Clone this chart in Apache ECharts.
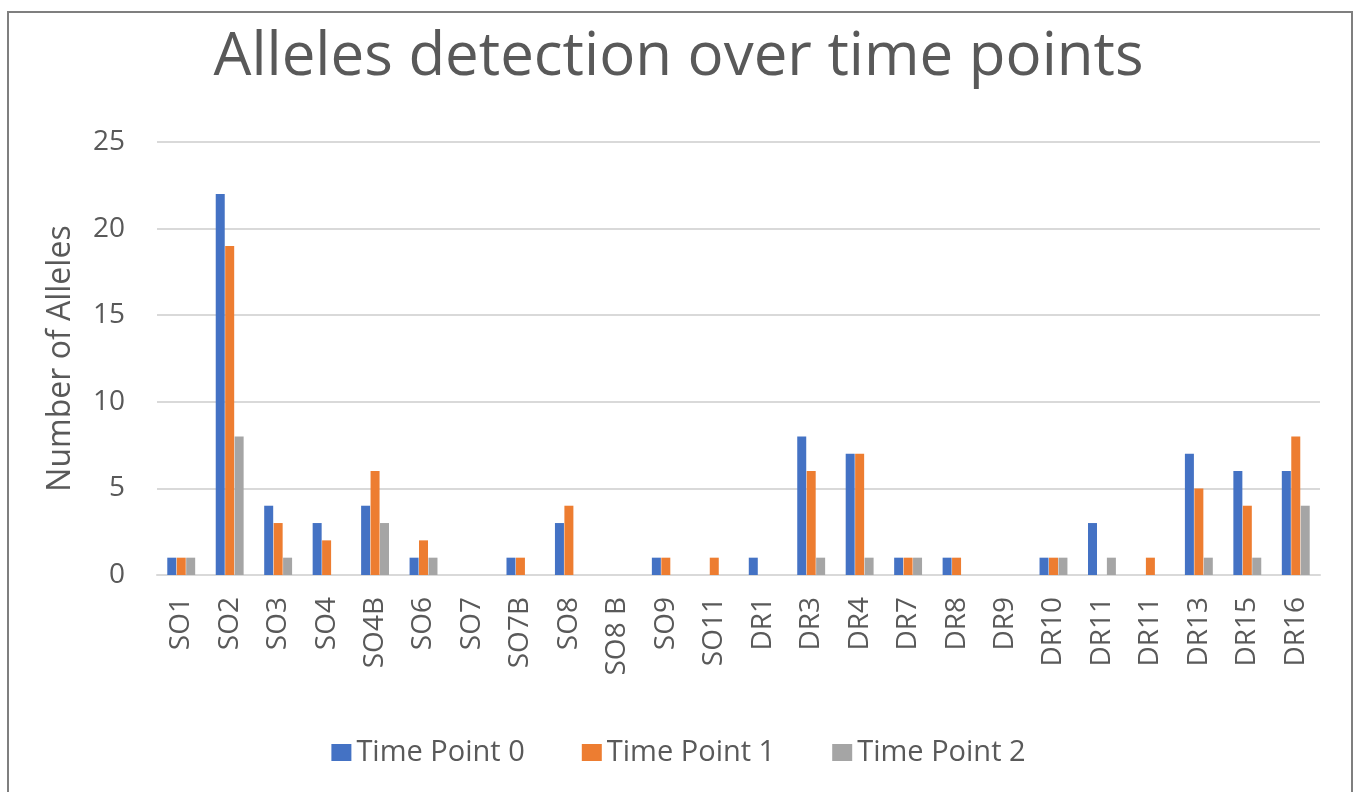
<!DOCTYPE html>
<html>
<head>
<meta charset="utf-8">
<script src="https://cdn.jsdelivr.net/npm/echarts@6/dist/echarts.min.js"></script>
<style>
  html, body { margin: 0; padding: 0; background: #fff; overflow: hidden; }
  #frame {
    position: absolute; left: 7px; top: 11px; width: 1346px; height: 800px;
    border: 2px solid #7f7f7f; border-bottom: none; box-sizing: border-box;
  }
  #chart { position: absolute; left: 0; top: 0; width: 1357px; height: 792px; }
</style>
</head>
<body>
<div id="frame"></div>
<div id="chart"></div>
<script>
// 数据
const categories = ['SO1', 'SO2', 'SO3', 'SO4', 'SO4B', 'SO6', 'SO7', 'SO7B', 'SO8', 'SO8 B',
  'SO9', 'SO11', 'DR1', 'DR3', 'DR4', 'DR7', 'DR8', 'DR9', 'DR10', 'DR11', 'DR11',
  'DR13', 'DR15', 'DR16']
const timePoint0 = [1, 22, 4, 3, 4, 1, 0, 1, 3, 0, 1, 0, 1, 8, 7, 1, 1, 0, 1, 3, 0, 7, 6, 6]
const timePoint1 = [1, 19, 3, 2, 6, 2, 0, 1, 4, 0, 1, 1, 0, 6, 7, 1, 1, 0, 1, 0, 1, 5, 4, 8]
const timePoint2 = [1, 8, 1, 0, 3, 1, 0, 0, 0, 0, 0, 0, 0, 1, 1, 1, 0, 0, 1, 1, 0, 1, 1, 4]
const yTicks = [0, 5, 10, 15, 20, 25]

const font = '"Open Sans", sans-serif'
const textColor = '#595959'

const chart = echarts.init(document.getElementById('chart'))

const makeSeries = (name, data, color) => ({
  name,
  type: 'bar',
  data,
  barWidth: 9,
  barGap: '5%',
  itemStyle: { color },
  emphasis: { disabled: true }
})

chart.setOption({
  animation: false,
  title: {
    text: 'Alleles detection over time points',
    left: 'center',
    top: 23,
    textStyle: { fontFamily: font, fontSize: 60, fontWeight: 'normal', color: textColor }
  },
  legend: {
    top: 733,
    left: 'center',
    itemWidth: 20,
    itemHeight: 17,
    itemGap: 57,
    icon: 'rect',
    textStyle: { fontFamily: font, fontSize: 29, color: textColor }
  },
  grid: { left: 157, right: 37, top: 142, bottom: 217 },
  xAxis: {
    type: 'category',
    data: categories,
    axisLine: { lineStyle: { color: '#d9d9d9', width: 2 } },
    axisTick: { show: false },
    axisLabel: {
      rotate: 90,
      interval: 0,
      margin: 22,
      fontFamily: font,
      fontSize: 28,
      color: textColor
    }
  },
  yAxis: {
    type: 'value',
    min: yTicks[0],
    max: yTicks[yTicks.length - 1],
    interval: 5,
    name: 'Number of Alleles',
    nameLocation: 'middle',
    nameGap: 80,
    nameTextStyle: { fontFamily: font, fontSize: 32, color: textColor },
    axisLine: { show: false },
    axisTick: { show: false },
    axisLabel: { margin: 32, fontFamily: font, fontSize: 28, color: textColor },
    splitLine: { lineStyle: { color: '#d9d9d9', width: 2 } }
  },
  series: [
    makeSeries('Time Point 0', timePoint0, '#4472c4'),
    makeSeries('Time Point 1', timePoint1, '#ed7d31'),
    makeSeries('Time Point 2', timePoint2, '#a5a5a5')
  ]
})
</script>
</body>
</html>
